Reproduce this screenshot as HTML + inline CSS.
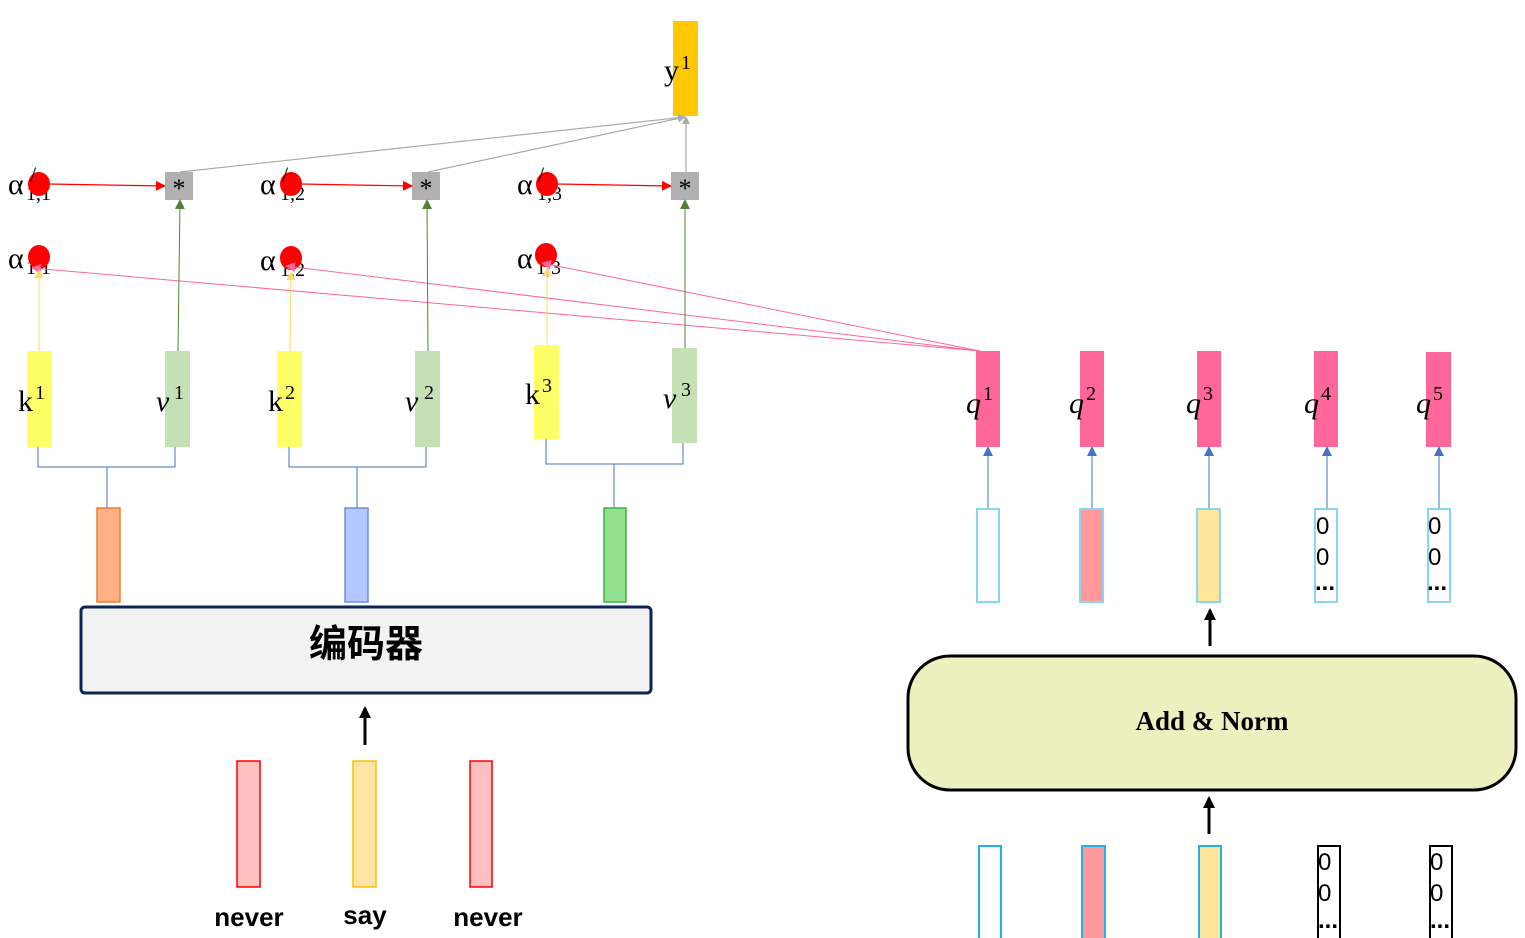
<!DOCTYPE html>
<html><head><meta charset="utf-8"><style>
html,body{margin:0;padding:0;background:#fff;}
svg{display:block;}
.m{font-family:"Liberation Serif","DejaVu Serif",serif;font-size:30px;fill:#000;}
.s{font-family:"Liberation Serif","DejaVu Serif",serif;font-size:20px;fill:#000;}
.z{font-family:"Liberation Sans",sans-serif;font-size:24px;fill:#000;}
</style></head><body>
<svg width="1525" height="938" viewBox="0 0 1525 938" xmlns="http://www.w3.org/2000/svg">
<defs>
<marker id="ag" markerWidth="8" markerHeight="8" refX="7" refY="4" orient="auto" markerUnits="userSpaceOnUse"><path d="M0,0 L8,4 L0,8z" fill="#aaa"/></marker>
<marker id="ar" markerWidth="10" markerHeight="10" refX="9" refY="5" orient="auto" markerUnits="userSpaceOnUse"><path d="M0,0 L10,5 L0,10z" fill="#f00"/></marker>
<marker id="agr" markerWidth="10" markerHeight="10" refX="9" refY="5" orient="auto" markerUnits="userSpaceOnUse"><path d="M0,0 L10,5 L0,10z" fill="#548235"/></marker>
<marker id="ay" markerWidth="9" markerHeight="9" refX="8" refY="4.5" orient="auto" markerUnits="userSpaceOnUse"><path d="M0,0 L9,4.5 L0,9z" fill="#FFD966"/></marker>
<marker id="ap" markerWidth="10" markerHeight="10" refX="9" refY="5" orient="auto" markerUnits="userSpaceOnUse"><path d="M0,0 L10,5 L0,10z" fill="#FF6699"/></marker>
<marker id="ab" markerWidth="10" markerHeight="10" refX="9" refY="5" orient="auto" markerUnits="userSpaceOnUse"><path d="M0,0 L10,5 L0,10z" fill="#4472C4"/></marker>
<marker id="ak" markerWidth="12" markerHeight="12" refX="10" refY="6" orient="auto" markerUnits="userSpaceOnUse"><path d="M0,0 L12,6 L0,12z" fill="#000"/></marker>
</defs>

<!-- y1 -->
<rect x="673" y="21" width="25" height="95" fill="#FFC800"/>
<text x="664" y="80" class="m">y</text><text x="681" y="69" class="s">1</text>

<!-- gray lines to y -->
<line x1="180" y1="172" x2="685" y2="117" stroke="#aaa" stroke-width="1.2" marker-end="url(#ag)"/>
<line x1="428" y1="172" x2="685" y2="117" stroke="#aaa" stroke-width="1.2" marker-end="url(#ag)"/>
<line x1="686" y1="172" x2="686" y2="117" stroke="#aaa" stroke-width="1.2" marker-end="url(#ag)"/>

<!-- * boxes -->
<rect x="165" y="172" width="28" height="28" fill="#B0B0B0"/>
<rect x="412" y="172" width="28" height="28" fill="#B0B0B0"/>
<rect x="671" y="172" width="28" height="28" fill="#B0B0B0"/>
<text x="179" y="197" text-anchor="middle" class="m" style="font-size:26px">*</text>
<text x="426" y="197" text-anchor="middle" class="m" style="font-size:26px">*</text>
<text x="685" y="197" text-anchor="middle" class="m" style="font-size:26px">*</text>

<!-- alpha' row -->
<g>
<text x="8" y="194" class="m">α</text><text x="26" y="200" class="s">1,1</text>
<ellipse cx="39" cy="184" rx="11" ry="12" fill="#f00"/>
<text x="30" y="182" class="m" style="font-size:22px">/</text>
<line x1="48" y1="184" x2="165" y2="186" stroke="#f00" stroke-width="1.2" marker-end="url(#ar)"/>
<text x="260" y="194" class="m">α</text><text x="280" y="200" class="s">1,2</text>
<ellipse cx="291" cy="184" rx="11" ry="12" fill="#f00"/>
<text x="282" y="182" class="m" style="font-size:22px">/</text>
<line x1="300" y1="184" x2="412" y2="186" stroke="#f00" stroke-width="1.2" marker-end="url(#ar)"/>
<text x="517" y="194" class="m">α</text><text x="537" y="200" class="s">1,3</text>
<ellipse cx="547" cy="184" rx="11" ry="12" fill="#f00"/>
<text x="538" y="182" class="m" style="font-size:22px">/</text>
<line x1="556" y1="184" x2="671" y2="186" stroke="#f00" stroke-width="1.2" marker-end="url(#ar)"/>
</g>

<!-- alpha row -->
<text x="8" y="268" class="m">α</text><text x="26" y="274" class="s">1,1</text>
<ellipse cx="39" cy="257" rx="11" ry="12" fill="#f00"/>
<text x="260" y="270" class="m">α</text><text x="280" y="276" class="s">1,2</text>
<ellipse cx="291" cy="258" rx="11" ry="12" fill="#f00"/>
<text x="517" y="268" class="m">α</text><text x="536" y="274" class="s">1,3</text>
<ellipse cx="546" cy="255" rx="11" ry="12" fill="#f00"/>

<!-- pink lines -->
<line x1="980" y1="351" x2="32" y2="268" stroke="#FF6699" stroke-width="1" marker-end="url(#ap)"/>
<line x1="980" y1="351" x2="286" y2="266" stroke="#FF6699" stroke-width="1" marker-end="url(#ap)"/>
<line x1="980" y1="351" x2="542" y2="263" stroke="#FF6699" stroke-width="1" marker-end="url(#ap)"/>

<!-- yellow arrows -->
<line x1="39" y1="351" x2="39" y2="270" stroke="#FFD966" stroke-width="1" marker-end="url(#ay)"/>
<line x1="290" y1="351" x2="291" y2="272" stroke="#FFD966" stroke-width="1" marker-end="url(#ay)"/>
<line x1="547" y1="345" x2="547" y2="268" stroke="#FFD966" stroke-width="1" marker-end="url(#ay)"/>
<!-- green arrows -->
<line x1="178" y1="351" x2="180" y2="200" stroke="#548235" stroke-width="1" marker-end="url(#agr)"/>
<line x1="428" y1="351" x2="427" y2="200" stroke="#548235" stroke-width="1" marker-end="url(#agr)"/>
<line x1="685" y1="348" x2="685" y2="200" stroke="#548235" stroke-width="1" marker-end="url(#agr)"/>

<!-- k v boxes -->
<rect x="27" y="351" width="25" height="96" fill="#FFFF66"/>
<rect x="165" y="351" width="25" height="96" fill="#C5E0B4"/>
<rect x="277" y="351" width="25" height="96" fill="#FFFF66"/>
<rect x="415" y="351" width="25" height="96" fill="#C5E0B4"/>
<rect x="534" y="345" width="25" height="94" fill="#FFFF66"/>
<rect x="672" y="348" width="25" height="95" fill="#C5E0B4"/>
<text x="18" y="411" class="m">k</text><text x="35" y="399" class="s">1</text>
<text x="156" y="411" class="m" style="font-style:italic">v</text><text x="174" y="399" class="s">1</text>
<text x="268" y="411" class="m">k</text><text x="285" y="399" class="s">2</text>
<text x="405" y="411" class="m" style="font-style:italic">v</text><text x="424" y="399" class="s">2</text>
<text x="525" y="404" class="m">k</text><text x="542" y="392" class="s">3</text>
<text x="663" y="408" class="m" style="font-style:italic">v</text><text x="681" y="396" class="s">3</text>

<!-- blue connectors -->
<g stroke="#4472C4" stroke-width="1" fill="none">
<polyline points="38,447 38,467 175,467 175,447"/><line x1="107" y1="467" x2="107" y2="508"/>
<polyline points="289,447 289,467 426,467 426,447"/><line x1="357" y1="467" x2="357" y2="508"/>
<polyline points="546,439 546,464 683,464 683,443"/><line x1="614" y1="464" x2="614" y2="508"/>
</g>

<!-- encoder outputs -->
<rect x="97" y="508" width="23" height="94" fill="#FFB084" stroke="#ED7D31" stroke-width="1.5"/>
<rect x="345" y="508" width="23" height="94" fill="#B4C7FF" stroke="#6D8FE0" stroke-width="1.5"/>
<rect x="604" y="508" width="22" height="94" fill="#90E090" stroke="#3CB43C" stroke-width="1.5"/>

<!-- encoder -->
<rect x="81" y="607" width="570" height="86" rx="4" fill="#F2F2F2" stroke="#0E2356" stroke-width="3"/>
<text x="366" y="657" text-anchor="middle" style="font-family:'Noto Sans CJK SC','WenQuanYi Zen Hei',sans-serif;font-size:38px;font-weight:bold;">编码器</text>
<line x1="365" y1="745" x2="365" y2="708" stroke="#000" stroke-width="3" marker-end="url(#ak)"/>

<!-- inputs -->
<rect x="237" y="761" width="23" height="126" fill="#FFBFBF" stroke="#FF0000" stroke-width="1.5"/>
<rect x="353" y="761" width="23" height="126" fill="#FFE6A6" stroke="#FFC000" stroke-width="1.5"/>
<rect x="470" y="761" width="22" height="126" fill="#FFBFBF" stroke="#FF0000" stroke-width="1.5"/>
<g style="font-family:'Liberation Sans',sans-serif;font-size:26px;font-weight:bold;" text-anchor="middle">
<text x="249" y="926">never</text><text x="365" y="924">say</text><text x="488" y="926">never</text>
</g>

<!-- q boxes -->
<g fill="#FF6699">
<rect x="976" y="351" width="24" height="96"/><rect x="1080" y="351" width="24" height="96"/>
<rect x="1197" y="351" width="24" height="96"/><rect x="1314" y="351" width="24" height="96"/>
<rect x="1426" y="352" width="25" height="95"/>
</g>
<g>
<text x="966" y="413" class="m" style="font-style:italic">q</text><text x="983" y="400" class="s">1</text>
<text x="1069" y="413" class="m" style="font-style:italic">q</text><text x="1086" y="400" class="s">2</text>
<text x="1186" y="413" class="m" style="font-style:italic">q</text><text x="1203" y="400" class="s">3</text>
<text x="1304" y="413" class="m" style="font-style:italic">q</text><text x="1321" y="400" class="s">4</text>
<text x="1416" y="413" class="m" style="font-style:italic">q</text><text x="1433" y="400" class="s">5</text>
</g>
<g stroke="#4472C4" stroke-width="1">
<line x1="988" y1="508" x2="988" y2="447" marker-end="url(#ab)"/>
<line x1="1092" y1="508" x2="1092" y2="447" marker-end="url(#ab)"/>
<line x1="1209" y1="508" x2="1209" y2="447" marker-end="url(#ab)"/>
<line x1="1327" y1="508" x2="1327" y2="447" marker-end="url(#ab)"/>
<line x1="1439" y1="508" x2="1439" y2="447" marker-end="url(#ab)"/>
</g>

<!-- decoder inputs upper -->
<rect x="977" y="509" width="22" height="93" fill="#fff" stroke="#87D6F5" stroke-width="2"/>
<rect x="1080" y="509" width="23" height="93" fill="#FF9999" stroke="#87D6F5" stroke-width="2"/>
<rect x="1197" y="509" width="23" height="93" fill="#FFE699" stroke="#87D6F5" stroke-width="2"/>
<rect x="1315" y="509" width="22" height="93" fill="#fff" stroke="#87D6F5" stroke-width="2"/>
<rect x="1428" y="509" width="22" height="93" fill="#fff" stroke="#87D6F5" stroke-width="2"/>
<text x="1316" y="534" class="z">0</text><text x="1316" y="565" class="z">0</text><text x="1315" y="590" class="z" style="font-weight:bold">...</text>
<text x="1428" y="534" class="z">0</text><text x="1428" y="565" class="z">0</text><text x="1427" y="590" class="z" style="font-weight:bold">...</text>

<line x1="1210" y1="646" x2="1210" y2="610" stroke="#000" stroke-width="3" marker-end="url(#ak)"/>

<!-- Add & Norm -->
<rect x="908" y="656" width="608" height="134" rx="42" fill="#EBF0BE" stroke="#000" stroke-width="3"/>
<text x="1212" y="730" text-anchor="middle" style="font-family:'Liberation Serif',serif;font-size:27px;font-weight:bold;">Add &amp; Norm</text>

<line x1="1209" y1="834" x2="1209" y2="798" stroke="#000" stroke-width="3" marker-end="url(#ak)"/>

<!-- bottom decoder inputs -->
<rect x="979" y="846" width="22" height="95" fill="#fff" stroke="#1EB4E8" stroke-width="2"/>
<rect x="1082" y="846" width="23" height="95" fill="#FF9999" stroke="#1EB4E8" stroke-width="2"/>
<rect x="1199" y="846" width="22" height="95" fill="#FFE699" stroke="#1EB4E8" stroke-width="2"/>
<rect x="1318" y="846" width="22" height="95" fill="#fff" stroke="#000" stroke-width="2"/>
<rect x="1430" y="846" width="22" height="95" fill="#fff" stroke="#000" stroke-width="2"/>
<text x="1318" y="870" class="z">0</text><text x="1318" y="901" class="z">0</text><text x="1318" y="928" class="z" style="font-weight:bold">...</text>
<text x="1430" y="870" class="z">0</text><text x="1430" y="901" class="z">0</text><text x="1430" y="928" class="z" style="font-weight:bold">...</text>
</svg>
</body></html>
